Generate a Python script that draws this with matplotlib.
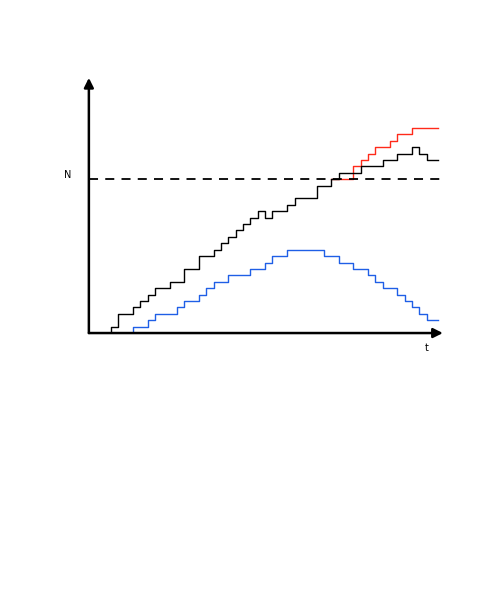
import matplotlib
matplotlib.use("Agg")
import matplotlib.pyplot as plt

# change times and levels (step "post")
black_t = [0, 3, 4, 6, 7, 8, 9, 11, 13, 15, 17, 18, 19, 20, 21, 22, 23, 24, 25, 27, 28, 31, 33, 34, 37, 40, 42, 44, 45, 46, 47.5]
black_n = [0, 1, 3, 4, 5, 6, 7, 8, 10, 12, 13, 14, 15, 16, 17, 18, 19, 18, 19, 20, 21, 23, 24, 25, 26, 27, 28, 29, 28, 27, 27]
red_t = [33, 36, 37, 38, 39, 41, 42, 44, 47.5]
red_n = [24, 26, 27, 28, 29, 30, 31, 32, 32]
blue_t = [0, 6, 8, 9, 12, 13, 15, 16, 17, 19, 22, 24, 25, 27, 32, 34, 36, 38, 39, 40, 42, 43, 44, 45, 46, 47.5]
blue_n = [0, 1, 2, 3, 4, 5, 6, 7, 8, 9, 10, 11, 12, 13, 12, 11, 10, 9, 8, 7, 6, 5, 4, 3, 2, 2]
threshold = 24

fig = plt.figure(figsize=(4.91, 5.99), dpi=100)
ax = fig.add_axes([0.181, 0.444, 0.721, 0.426])
ax.set_xlim(0, 48.2)
ax.set_ylim(0, 39.8)
ax.axis('off')

ax.step(red_t, red_n, where='post', color='#ff2a1a', lw=1)
ax.step(black_t, black_n, where='post', color='black', lw=1)
ax.step(blue_t, blue_n, where='post', color='#1f5fe6', lw=1)
ax.plot([0, 47.8], [threshold, threshold], color='black', lw=1.3, ls=(0, (5, 4)))

# axes with arrow heads
ax.annotate('', xy=(48.2, 0), xytext=(0, 0),
            arrowprops=dict(arrowstyle='-|>', color='black', lw=1.8, mutation_scale=14, shrinkA=0, shrinkB=0))
ax.annotate('', xy=(0, 39.8), xytext=(0, 0),
            arrowprops=dict(arrowstyle='-|>', color='black', lw=1.8, mutation_scale=14, shrinkA=0, shrinkB=0))

fig.text(68 / 491, 1 - 175 / 599, 'N', fontsize=7, ha='center', va='center')
fig.text(427 / 491, 1 - 348 / 599, 't', fontsize=7, ha='center', va='center')

fig.savefig('out.png', dpi=100)
